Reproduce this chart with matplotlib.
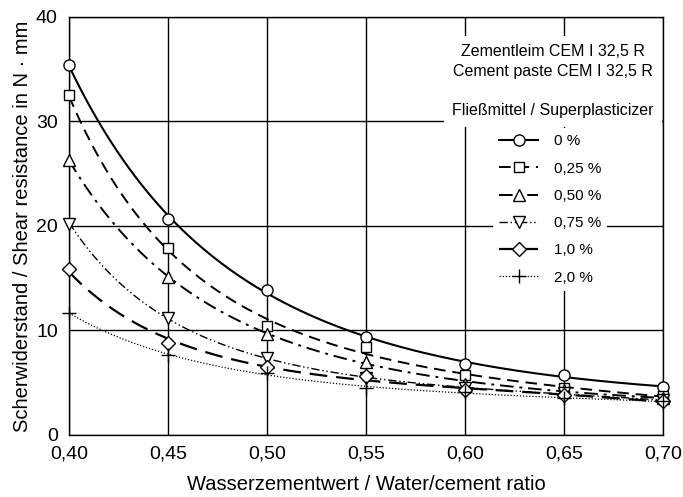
import numpy as np
import matplotlib
matplotlib.use("Agg")
import matplotlib.pyplot as plt

plt.rcParams['font.family'] = ['Liberation Sans', 'DejaVu Sans']

# Wasserzementwert
wz = [0.40, 0.45, 0.50, 0.55, 0.60, 0.65, 0.70]
wz_labels = ['0,40', '0,45', '0,50', '0,55', '0,60', '0,65', '0,70']

# Scherwiderstand je Fliessmittelgehalt
fm_0 = [35.4, 20.7, 13.9, 9.35, 6.8, 5.7, 4.6]
fm_025 = [32.5, 17.9, 10.4, 8.4, 5.7, 4.5, 3.7]
fm_050 = [26.3, 15.1, 9.7, 7.0, 4.9, 4.3, 3.5]
fm_075 = [20.2, 11.2, 7.4, 5.4, 4.5, 4.0, 3.3]
fm_100 = [15.9, 8.8, 6.5, 5.6, 4.3, 3.8, 3.2]
fm_200 = [11.7, 7.6, 5.9, 4.5, 4.1, 3.5, 3.2]

namen = ['0 %', '0,25 %', '0,50 %', '0,75 %', '1,0 %', '2,0 %']
reihen = [fm_0, fm_025, fm_050, fm_075, fm_100, fm_200]
marker = ['o', 's', '^', 'v', 'D', '+']
stile = ['-', (0, (6, 3.5)), (0, (7, 3, 1.5, 3)), (0, (6, 2, 1, 2, 1, 2)), (0, (8, 4)), (0, (1, 1.5))]
breiten = [1.5, 1.4, 1.4, 1.0, 1.6, 0.9]
msize = [8, 7, 8, 8, 7, 10]

fig = plt.figure(figsize=(6.83, 4.97), dpi=100)
ax = fig.add_axes([0.101, 0.125, 0.870, 0.841])

x = np.array(wz)
xs = np.linspace(0.40, 0.70, 200)
for i in range(len(reihen)):
    y = np.array(reihen[i])
    # glatte Kurve durch die Messpunkte (Fit im log-Raum)
    p = np.polyfit(x, np.log(y), 3)
    ax.plot(xs, np.exp(np.polyval(p, xs)), color='black', linestyle=stile[i], linewidth=breiten[i], zorder=3)
    ax.plot(x, y, linestyle='none', marker=marker[i], markersize=msize[i], clip_on=False,
            markerfacecolor='white', markeredgecolor='black', markeredgewidth=1.0, zorder=4)

ax.set_xlim(0.40, 0.70)
ax.set_ylim(0, 40)
ax.set_xticks(wz)
ax.set_xticklabels(wz_labels)
ax.set_yticks([0, 10, 20, 30, 40])
ax.tick_params(length=0, labelsize=14, pad=8)
ax.grid(True, color='black', linewidth=1.0)
ax.set_axisbelow(True)
for s in ax.spines.values():
    s.set_linewidth(1.0)

ax.set_xlabel('Wasserzementwert / Water/cement ratio', fontsize=14.5, labelpad=9)
ax.set_ylabel('Scherwiderstand / Shear resistance in N · mm', fontsize=14.5, labelpad=3)

# weisse Flaeche hinter Beschriftung und Legende
ax.text(0.814, 0.935, 'Zementleim CEM I 32,5 R\nCement paste CEM I 32,5 R\n\nFließmittel / Superplasticizer',
        transform=ax.transAxes, ha='center', va='top', fontsize=11.5, linespacing=1.4,
        bbox=dict(facecolor='white', edgecolor='none', pad=6), zorder=5)

handles = []
for i in range(len(reihen)):
    h, = ax.plot([], [], color='black', linestyle=stile[i], linewidth=breiten[i], marker=marker[i],
                 markersize=msize[i], markerfacecolor='white', markeredgecolor='black')
    handles.append(h)
leg = ax.legend(handles, namen, loc='upper left', bbox_to_anchor=(0.70, 0.752), frameon=True,
                fontsize=11, handlelength=2.6, labelspacing=0.87, handletextpad=1.0, borderpad=0.4)
leg.get_frame().set_edgecolor('none')
leg.get_frame().set_facecolor('white')
leg.get_frame().set_alpha(1.0)
leg.set_zorder(5)

fig.savefig('out.png', dpi=100)
